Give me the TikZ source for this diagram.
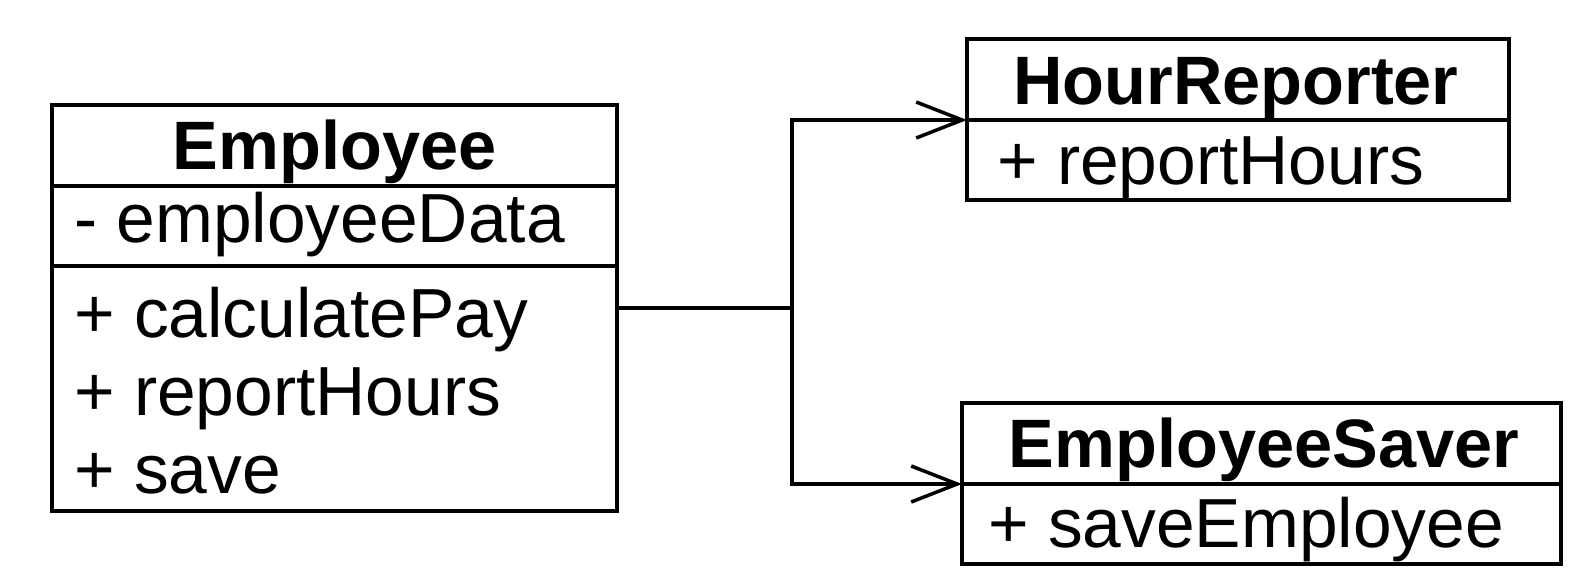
\documentclass[tikz,border=0pt]{standalone}
\usepackage{fontspec}
\setmainfont{Liberation Sans}
\usetikzlibrary{arrows.meta}
\begin{document}
\begin{tikzpicture}[x=1pt,y=-1pt,
  compartment/.style={draw=black, line width=4pt, rectangle, anchor=north west, inner sep=0pt, outer sep=0pt},
  classname/.style={anchor=base, inner sep=0pt, font=\fontsize{68.5}{78}\selectfont\bfseries},
  member/.style={anchor=base west, inner sep=0pt, font=\fontsize{69.5}{78}\selectfont},
  conn/.style={draw=black, line width=3.5pt, line join=miter},
  openarrow/.style={-{Straight Barb[length=46pt,width=36pt,line width=3.5pt]}}
]
\useasboundingbox (0,0) rectangle (1577,574);
% Employee
\node[compartment, minimum width=565pt, minimum height=81pt] (empT) at (52,105) {};
\node[compartment, minimum width=565pt, minimum height=80pt] (empA) at (52,186) {};
\node[compartment, minimum width=565pt, minimum height=245pt] (empO) at (52,266) {};
\node[classname] (empTt) at (334.5,169) {Employee};
\node[member] (empA1) at (74,242) {- employeeData};
\node[member] (empO1) at (74,337) {+ calculatePay};
\node[member] (empO2) at (74,415) {+ reportHours};
\node[member] (empO3) at (74,493) {+ save};
% HourReporter
\node[compartment, minimum width=542pt, minimum height=81pt] (hrT) at (967,39) {};
\node[compartment, minimum width=542pt, minimum height=80pt] (hrO) at (967,120) {};
\node[classname] (hrTt) at (1236,104) {HourReporter};
\node[member] (hrO1) at (997,184) {+ reportHours};
% EmployeeSaver
\node[compartment, minimum width=599pt, minimum height=81pt] (esT) at (962,403) {};
\node[compartment, minimum width=599pt, minimum height=80pt] (esO) at (962,484) {};
\node[classname] (esTt) at (1264,467) {EmployeeSaver};
\node[member] (esO1) at (988,547) {+ saveEmployee};
% connectors
\coordinate (j) at (792,308);
\draw[conn] (empO.east |- j) -- (j);
\draw[conn, openarrow] (j) |- (hrT.south west);
\draw[conn, openarrow] (j) |- (esT.south west);
\end{tikzpicture}
\end{document}
